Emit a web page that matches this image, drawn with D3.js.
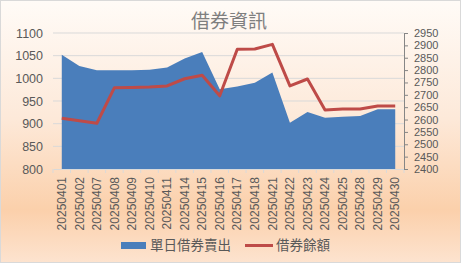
<!DOCTYPE html>
<html>
<head>
<meta charset="utf-8">
<script src="https://cdn.jsdelivr.net/npm/d3@7"></script>
<style>
body { margin: 0; background: #fff; }
text { font-family: "Liberation Sans", "Noto Sans CJK TC", sans-serif; }
</style>
</head>
<body>
<svg id="s" width="462" height="264"></svg>
<script>
var dates = ['20250401','20250402','20250407','20250408','20250409','20250410','20250411','20250414','20250415','20250416',
  '20250417','20250418','20250421','20250422','20250423','20250424','20250425','20250428','20250429','20250430'];
// 單日借券賣出 (left axis)
var daily = [1052,1027,1018,1018,1018,1019,1024,1044,1058,976,982,990,1013,902,926,913,915,917,932,932];
// 借券餘額 (right axis)
var balance = [2605,2595,2585,2729,2730,2732,2736,2765,2779,2696,2884,2885,2904,2736,2764,2639,2643,2643,2655,2655];
var leftTicks = [800,850,900,950,1000,1050,1100];
var rightTicks = [2400,2450,2500,2550,2600,2650,2700,2750,2800,2850,2900,2950];

var s = d3.select('#s');

var defs = s.append('defs');
var grad = defs.append('linearGradient').attr('id','bg').attr('x1',0).attr('y1',0).attr('x2',0).attr('y2',1);
grad.append('stop').attr('offset','0%').attr('stop-color','#fffbf7');
grad.append('stop').attr('offset','45%').attr('stop-color','#fde9d9');
grad.append('stop').attr('offset','80%').attr('stop-color','#fbd0ab');
grad.append('stop').attr('offset','100%').attr('stop-color','#fde3cf');

s.append('rect').attr('x',0.5).attr('y',0.5).attr('width',460).attr('height',262)
  .attr('fill','url(#bg)').attr('stroke','#d9d9d9');

var x = d3.scaleBand().domain(dates).range([53,404]);
var yL = d3.scaleLinear().domain([800,1100]).range([169,33]);
var yR = d3.scaleLinear().domain([2400,2950]).range([169,33]);
var cx = function(d){ return x(d) + x.bandwidth()/2; };

// gridlines
s.append('g').selectAll('line').data(leftTicks.slice(1)).enter().append('line')
  .attr('x1',53).attr('x2',404)
  .attr('y1',function(d){return yL(d);}).attr('y2',function(d){return yL(d);})
  .attr('stroke','#d9d9d9').attr('stroke-width',1);

// area
var area = d3.area()
  .x(function(d,i){return cx(dates[i]);})
  .y0(yL(800))
  .y1(function(d){return yL(d);});
s.append('path').datum(daily).attr('d',area).attr('fill','#4a7ebb');

// line
var line = d3.line()
  .x(function(d,i){return cx(dates[i]);})
  .y(function(d){return yR(d);});
s.append('path').datum(balance).attr('d',line).attr('fill','none')
  .attr('stroke','#be4b48').attr('stroke-width',3).attr('stroke-linejoin','round');

// x axis
var xAxis = s.append('g').attr('transform','translate(0,169)')
  .call(d3.axisBottom(x).tickSize(0).tickPadding(0));
xAxis.select('.domain').attr('stroke','#d9d9d9');
xAxis.selectAll('text')
  .attr('transform','rotate(-90)')
  .attr('x',-8).attr('y',0).attr('dy','0.35em')
  .attr('text-anchor','end')
  .attr('font-size','12px').attr('fill','#595959');
s.append('g').selectAll('line').data(dates.concat(['end'])).enter().append('line')
  .attr('x1',function(d,i){return 53 + i*x.bandwidth();})
  .attr('x2',function(d,i){return 53 + i*x.bandwidth();})
  .attr('y1',169).attr('y2',173).attr('stroke','#d9d9d9');

// left axis
var lAxis = s.append('g').attr('transform','translate(53,0)')
  .call(d3.axisLeft(yL).tickValues(leftTicks).tickFormat(d3.format('d')).tickSize(0).tickPadding(10));
lAxis.select('.domain').remove();
lAxis.selectAll('text').attr('font-size','12.5px').attr('fill','#595959');

// right axis
var rAxis = s.append('g').attr('transform','translate(404,0)')
  .call(d3.axisRight(yR).tickValues(rightTicks).tickFormat(d3.format('d')).tickSize(4).tickSizeOuter(0).tickPadding(6));
rAxis.select('.domain').attr('stroke','#868686');
rAxis.selectAll('line').attr('stroke','#868686');
rAxis.selectAll('text').attr('font-size','11px').attr('fill','#595959');

// title
s.append('text').attr('x',229).attr('y',28).attr('text-anchor','middle')
  .attr('font-size','19px').attr('fill','#7f7f7f')
  .style('font-family','"Noto Sans CJK TC", sans-serif')
  .text('借券資訊');

// legend
var leg = s.append('g').style('font-family','"Noto Sans CJK TC", sans-serif');
leg.append('rect').attr('x',121).attr('y',242).attr('width',25).attr('height',7).attr('fill','#4a7ebb');
leg.append('text').attr('x',150).attr('y',250).attr('font-size','13.5px').attr('fill','#595959').text('單日借券賣出');
leg.append('line').attr('x1',245).attr('x2',273).attr('y1',245.5).attr('y2',245.5)
  .attr('stroke','#be4b48').attr('stroke-width',3);
leg.append('text').attr('x',276).attr('y',250).attr('font-size','13.5px').attr('fill','#595959').text('借券餘額');
</script>
</body>
</html>
